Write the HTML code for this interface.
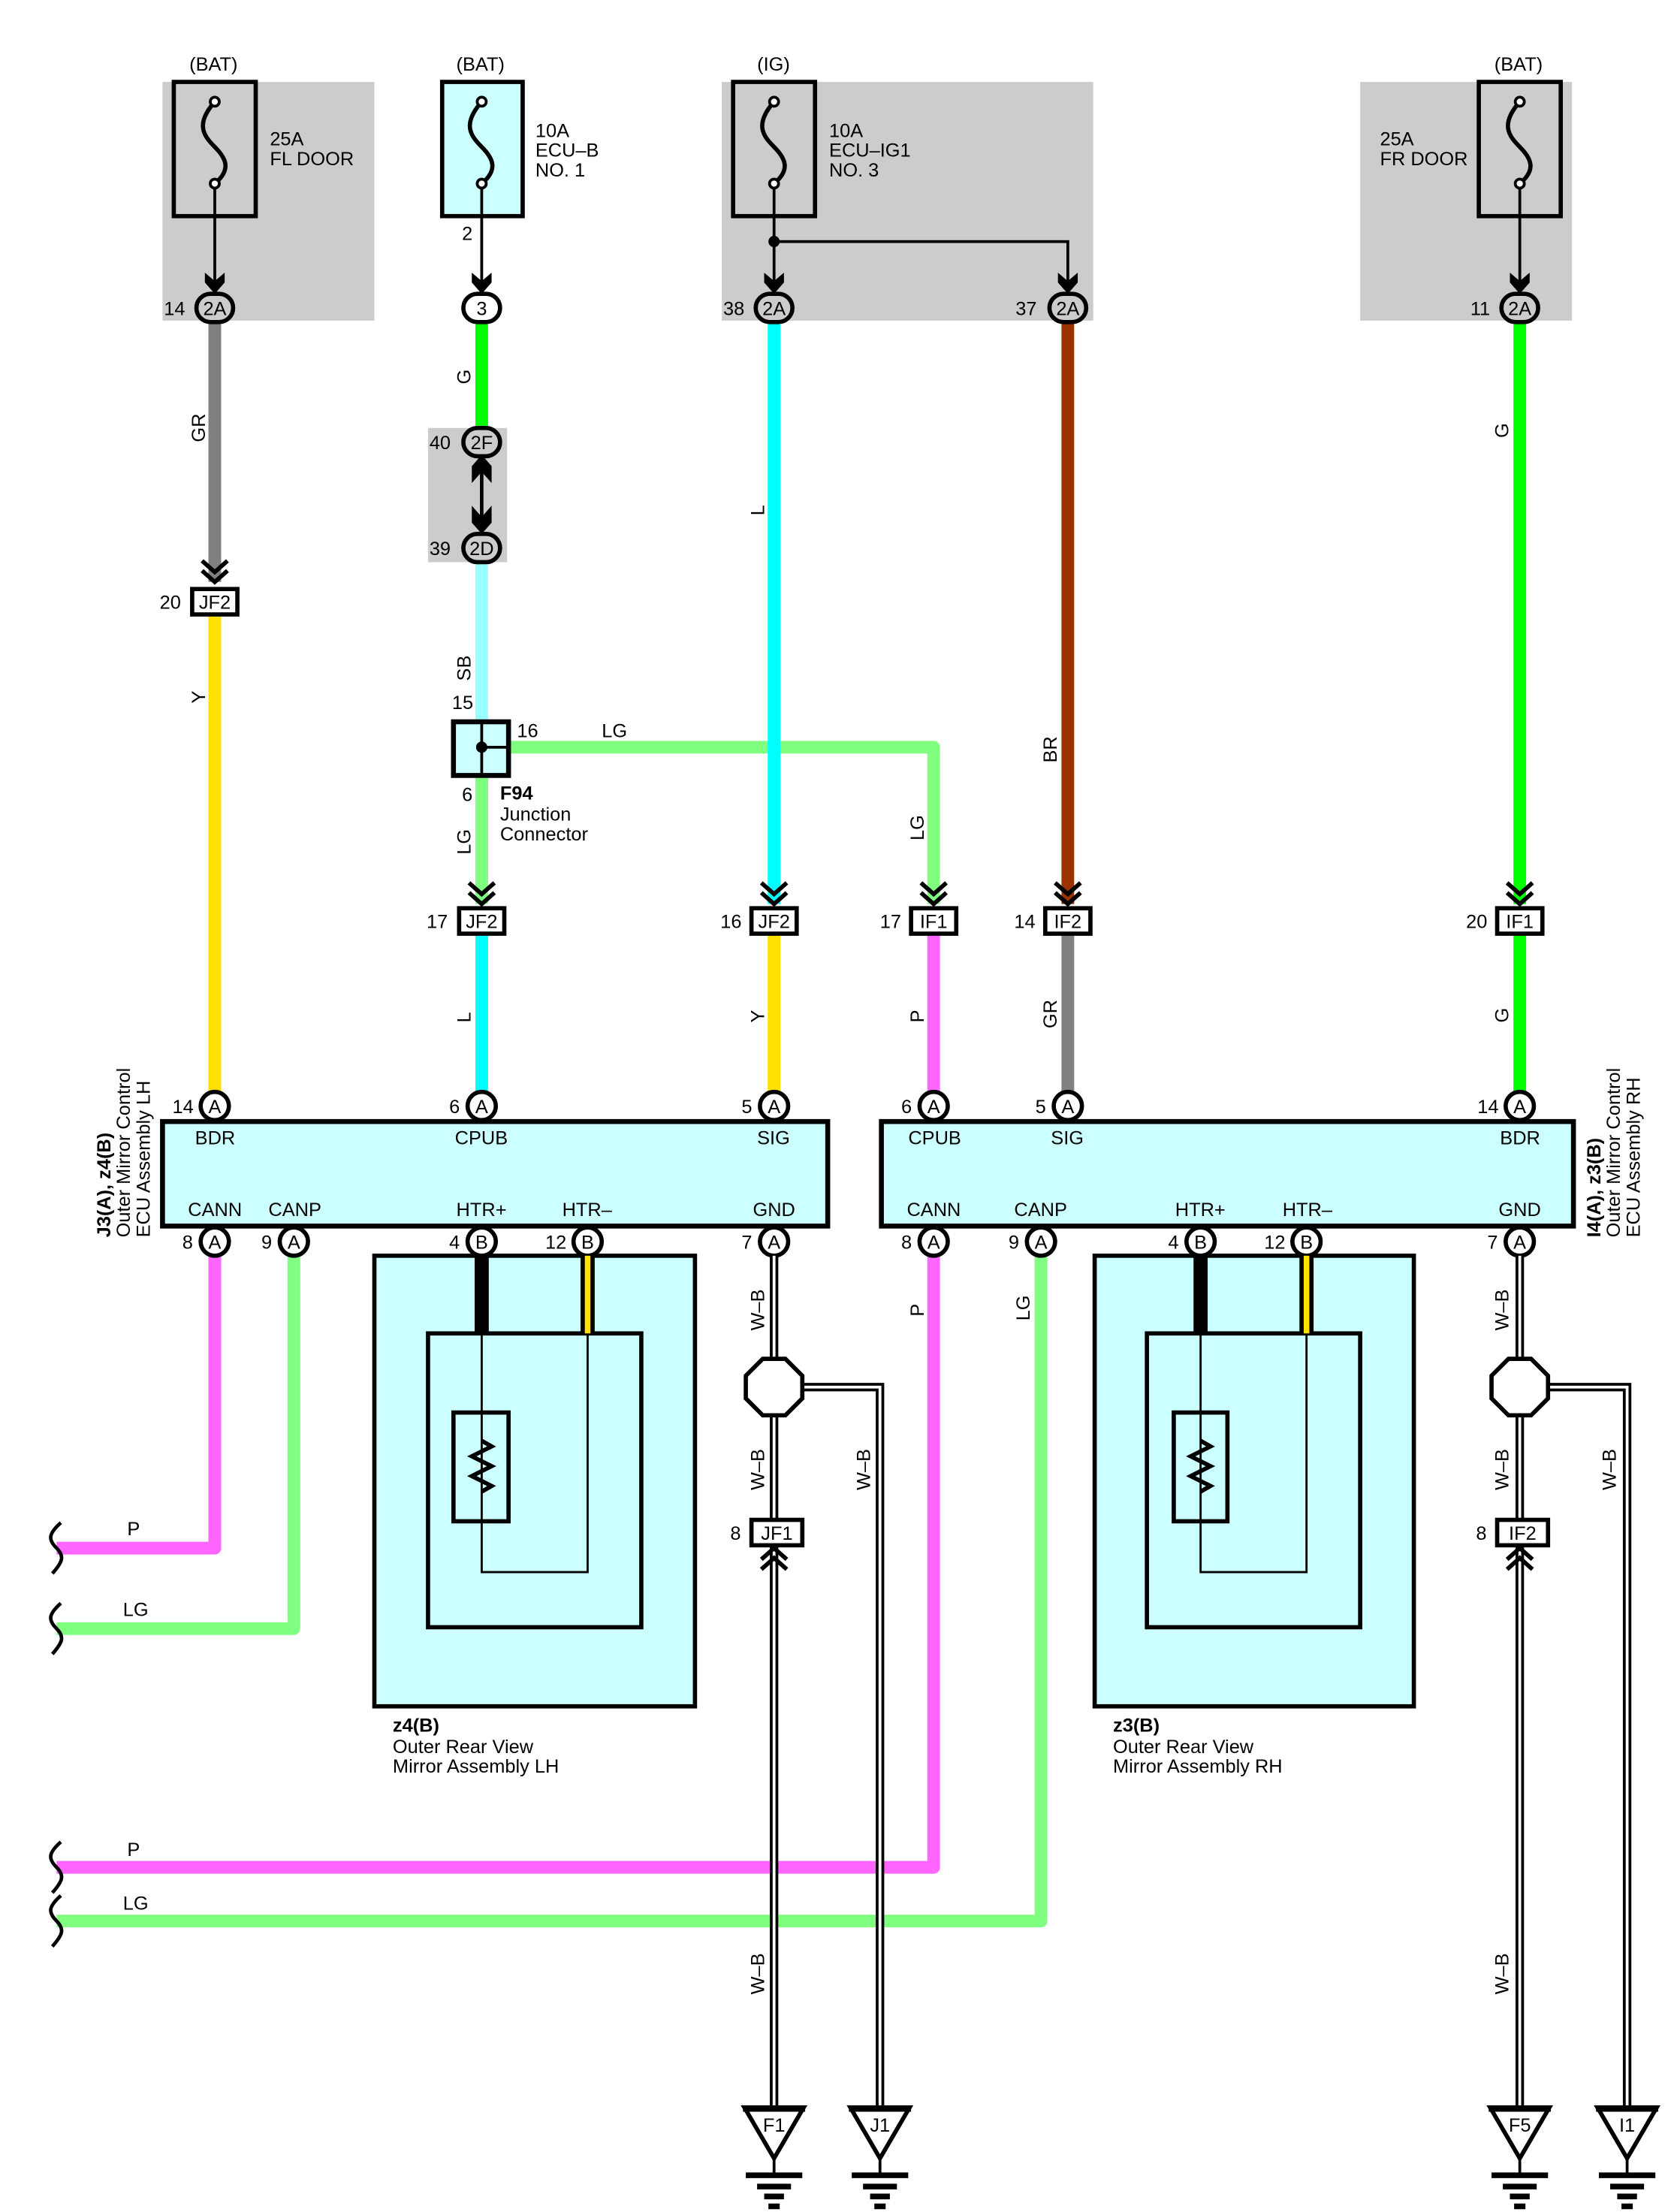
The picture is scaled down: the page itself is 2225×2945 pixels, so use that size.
<!DOCTYPE html>
<html><head><meta charset="utf-8"><style>
html,body{margin:0;padding:0;background:#fff;}
svg{display:block;}
text{font-family:"Liberation Sans",sans-serif;font-size:13.5px;fill:#000;}
.b{font-weight:bold;}
</style></head><body>
<svg width="2225" height="2945" viewBox="0 0 1183 1566" xmlns="http://www.w3.org/2000/svg">
<defs>
<g id="chev"><polyline points="-9,-16 0,-8 9,-16" fill="none" stroke="#000" stroke-width="3"/><polyline points="-9,-9 0,-1 9,-9" fill="none" stroke="#000" stroke-width="3"/></g>
<g id="chevup"><polyline points="-9,16 0,8 9,16" fill="none" stroke="#000" stroke-width="3"/><polyline points="-9,9 0,1 9,9" fill="none" stroke="#000" stroke-width="3"/></g>
<g id="fuse"><path d="M0,72 C-14,88 -8,96 0,104 C8,112 12,120 0,130" fill="none" stroke="#000" stroke-width="3"/><circle cx="0" cy="72" r="3.2" fill="#fff" stroke="#000" stroke-width="2"/><circle cx="0" cy="130" r="3.2" fill="#fff" stroke="#000" stroke-width="2"/></g>
<g id="gnd"><polygon points="-21,0 21,0 0,36" fill="#fff" stroke="#000" stroke-width="3"/><line x1="-22" y1="1" x2="22" y2="1" stroke="#000" stroke-width="4"/><line x1="0" y1="36" x2="0" y2="48" stroke="#000" stroke-width="2"/><line x1="-20" y1="48" x2="20" y2="48" stroke="#000" stroke-width="4"/><line x1="-12" y1="56" x2="12" y2="56" stroke="#000" stroke-width="4"/><line x1="-7" y1="63" x2="7" y2="63" stroke="#000" stroke-width="4"/><line x1="-4" y1="70" x2="4" y2="70" stroke="#000" stroke-width="4"/></g>
</defs>

<rect x="115" y="58" width="150" height="169" fill="#ccc"/>
<rect x="511" y="58" width="263" height="169" fill="#ccc"/>
<rect x="963" y="58" width="150" height="169" fill="#ccc"/>
<rect x="303" y="303" width="56" height="95" fill="#ccc"/>

<text x="134" y="50">(BAT)</text>
<text x="323" y="50">(BAT)</text>
<text x="536" y="50">(IG)</text>
<text x="1058" y="50">(BAT)</text>
<text x="191" y="103">25A</text><text x="191" y="117">FL DOOR</text>
<text x="379" y="97">10A</text><text x="379" y="111">ECU–B</text><text x="379" y="125">NO. 1</text>
<text x="587" y="97">10A</text><text x="587" y="111">ECU–IG1</text><text x="587" y="125">NO. 3</text>
<text x="977" y="103">25A</text><text x="977" y="117">FR DOOR</text>

<rect x="123" y="58" width="58" height="95" fill="none" stroke="#000" stroke-width="3"/>
<rect x="313" y="58" width="57" height="95" fill="#ccffff" stroke="#000" stroke-width="3"/>
<rect x="519" y="58" width="58" height="95" fill="none" stroke="#000" stroke-width="3"/>
<rect x="1047" y="58" width="58" height="95" fill="none" stroke="#000" stroke-width="3"/>
<use href="#fuse" x="152"/><use href="#fuse" x="341"/><use href="#fuse" x="548"/><use href="#fuse" x="1076"/>
<g stroke="#000" stroke-width="2" fill="none">
<line x1="152" y1="133" x2="152" y2="205"/><line x1="341" y1="133" x2="341" y2="205"/>
<line x1="548" y1="133" x2="548" y2="205"/><line x1="1076" y1="133" x2="1076" y2="205"/>
<polyline points="548,171 756,171 756,205"/>
</g>
<circle cx="548" cy="171" r="4" fill="#000"/>
<g fill="#000">
<polygon points="145,193 152,199 159,193 159,200 152,208 145,200"/>
<polygon points="334,193 341,199 348,193 348,200 341,208 334,200"/>
<polygon points="541,193 548,199 555,193 555,200 548,208 541,200"/>
<polygon points="749,193 756,199 763,193 763,200 756,208 749,200"/>
<polygon points="1069,193 1076,199 1083,193 1083,200 1076,208 1069,200"/>
</g>
<text x="327" y="170">2</text>

<g fill="none" stroke-width="9">
<line x1="152" y1="228" x2="152" y2="412" stroke="#808080"/>
<line x1="152" y1="435" x2="152" y2="775" stroke="#ffe000"/>
<line x1="341" y1="228" x2="341" y2="303" stroke="#00ff00"/>
<line x1="341" y1="398" x2="341" y2="512" stroke="#99ffff"/>
<polyline points="341,548 341,640" stroke="#80ff80"/>
<polyline points="358,529 661,529 661,640" stroke="#80ff80" stroke-linejoin="round"/>
<line x1="341" y1="662" x2="341" y2="775" stroke="#00ffff"/>
<line x1="548" y1="228" x2="548" y2="640" stroke="#00ffff"/>
<line x1="548" y1="662" x2="548" y2="775" stroke="#ffe000"/>
<line x1="661" y1="662" x2="661" y2="775" stroke="#ff66ff"/>
<line x1="756" y1="228" x2="756" y2="640" stroke="#993300"/>
<line x1="756" y1="662" x2="756" y2="775" stroke="#808080"/>
<line x1="1076" y1="228" x2="1076" y2="640" stroke="#00ff00"/>
<line x1="1076" y1="662" x2="1076" y2="775" stroke="#00ff00"/>
<polyline points="152,888 152,1096 40,1096" stroke="#ff66ff" stroke-linejoin="round"/>
<polyline points="208,888 208,1153 40,1153" stroke="#80ff80" stroke-linejoin="round"/>
<polyline points="661,888 661,1322 40,1322" stroke="#ff66ff" stroke-linejoin="round"/>
<polyline points="737,888 737,1360 40,1360" stroke="#80ff80" stroke-linejoin="round"/>
</g>

<line x1="341" y1="322" x2="341" y2="378" stroke="#000" stroke-width="2.5"/>
<polygon points="334,342 341,334 348,342 348,330 341,322 334,330" fill="#000"/>
<polygon points="334,358 341,366 348,358 348,370 341,378 334,370" fill="#000"/>

<rect x="321" y="511" width="39" height="38" fill="#ccffff" stroke="#000" stroke-width="3.5"/>
<g stroke="#000" stroke-width="2"><line x1="341" y1="511" x2="341" y2="549"/><line x1="341" y1="529" x2="360" y2="529"/></g>
<circle cx="341" cy="529" r="4" fill="#000"/>
<text x="320" y="502">15</text><text x="366" y="522">16</text><text x="426" y="522">LG</text>
<text x="327" y="567">6</text>
<text x="354" y="566" class="b">F94</text>
<text x="354" y="581">Junction</text><text x="354" y="595">Connector</text>

<g stroke="#000" stroke-width="3" fill="#ccc">
<rect x="139" y="208" width="26" height="20" rx="10"/>
<rect x="328" y="208" width="26" height="20" rx="10" fill="#fff"/>
<rect x="535" y="208" width="26" height="20" rx="10"/>
<rect x="743" y="208" width="26" height="20" rx="10"/>
<rect x="1063" y="208" width="26" height="20" rx="10"/>
<rect x="328" y="303" width="26" height="20" rx="10"/>
<rect x="328" y="378" width="26" height="20" rx="10"/>
</g>
<g text-anchor="middle">
<text x="152" y="223">2A</text><text x="341" y="223">3</text><text x="548" y="223">2A</text><text x="756" y="223">2A</text><text x="1076" y="223">2A</text>
<text x="341" y="318">2F</text><text x="341" y="393">2D</text>
</g>
<text x="116" y="223">14</text><text x="512" y="223">38</text><text x="719" y="223">37</text><text x="1041" y="223">11</text>
<text x="304" y="318">40</text><text x="304" y="393">39</text>

<use href="#chev" x="152" y="413"/><use href="#chev" x="341" y="641"/><use href="#chev" x="548" y="641"/><use href="#chev" x="661" y="641"/><use href="#chev" x="756" y="641"/><use href="#chev" x="1076" y="641"/>
<g fill="#fff" stroke="#000" stroke-width="3">
<rect x="136" y="417" width="32" height="18"/>
<rect x="325" y="643" width="32" height="18"/>
<rect x="532" y="643" width="32" height="18"/>
<rect x="645" y="643" width="32" height="18"/>
<rect x="740" y="643" width="32" height="18"/>
<rect x="1060" y="643" width="32" height="18"/>
</g>
<g text-anchor="middle">
<text x="152" y="431">JF2</text><text x="341" y="657">JF2</text><text x="548" y="657">JF2</text><text x="661" y="657">IF1</text><text x="756" y="657">IF2</text><text x="1076" y="657">IF1</text>
</g>
<text x="113" y="431">20</text><text x="302" y="657">17</text><text x="510" y="657">16</text><text x="623" y="657">17</text><text x="718" y="657">14</text><text x="1038" y="657">20</text>

<g>
<text transform="translate(145,313) rotate(-90)">GR</text>
<text transform="translate(333,272) rotate(-90)">G</text>
<text transform="translate(333,482) rotate(-90)">SB</text>
<text transform="translate(333,605) rotate(-90)">LG</text>
<text transform="translate(333,724) rotate(-90)">L</text>
<text transform="translate(145,498) rotate(-90)">Y</text>
<text transform="translate(541,365) rotate(-90)">L</text>
<text transform="translate(541,724) rotate(-90)">Y</text>
<text transform="translate(654,595) rotate(-90)">LG</text>
<text transform="translate(654,724) rotate(-90)">P</text>
<text transform="translate(748,540) rotate(-90)">BR</text>
<text transform="translate(748,728) rotate(-90)">GR</text>
<text transform="translate(1068,310) rotate(-90)">G</text>
<text transform="translate(1068,724) rotate(-90)">G</text>
<text transform="translate(654,932) rotate(-90)">P</text>
<text transform="translate(729,935) rotate(-90)">LG</text>
<text transform="translate(333,932) rotate(-90)">B</text>
<text transform="translate(409,942) rotate(-90)">B–Y</text>
<text transform="translate(843,932) rotate(-90)">B</text>
<text transform="translate(918,942) rotate(-90)">B–Y</text>
<text transform="translate(541,942) rotate(-90)">W–B</text>
<text transform="translate(541,1055) rotate(-90)">W–B</text>
<text transform="translate(616,1055) rotate(-90)">W–B</text>
<text transform="translate(541,1412) rotate(-90)">W–B</text>
<text transform="translate(1068,942) rotate(-90)">W–B</text>
<text transform="translate(1068,1055) rotate(-90)">W–B</text>
<text transform="translate(1144,1055) rotate(-90)">W–B</text>
<text transform="translate(1068,1412) rotate(-90)">W–B</text>
</g>
<text x="90" y="1087">P</text><text x="87" y="1144">LG</text>
<text x="90" y="1314">P</text><text x="87" y="1352">LG</text>

<g fill="none" stroke="#000" stroke-width="2.5">
<path d="M43,1078 C34,1086 34,1090 40,1096 C46,1102 44,1106 37,1114"/>
<path d="M43,1135 C34,1143 34,1147 40,1153 C46,1159 44,1163 37,1171"/>
<path d="M43,1304 C34,1312 34,1316 40,1322 C46,1328 44,1332 37,1340"/>
<path d="M43,1342 C34,1350 34,1354 40,1360 C46,1366 44,1370 37,1378"/>
</g>

<rect x="115" y="794" width="471" height="74" fill="#ccffff" stroke="#000" stroke-width="3.5"/>
<rect x="624" y="794" width="490" height="74" fill="#ccffff" stroke="#000" stroke-width="3.5"/>
<text x="138" y="810">BDR</text><text x="322" y="810">CPUB</text><text x="536" y="810">SIG</text>
<text x="133" y="861">CANN</text><text x="190" y="861">CANP</text><text x="323" y="861">HTR+</text><text x="398" y="861">HTR–</text><text x="533" y="861">GND</text>
<text x="643" y="810">CPUB</text><text x="744" y="810">SIG</text><text x="1062" y="810">BDR</text>
<text x="642" y="861">CANN</text><text x="718" y="861">CANP</text><text x="832" y="861">HTR+</text><text x="908" y="861">HTR–</text><text x="1061" y="861">GND</text>
<text transform="translate(78,876) rotate(-90)"><tspan class="b">J3(A), z4(B)</tspan></text>
<text transform="translate(92,876) rotate(-90)">Outer Mirror Control</text>
<text transform="translate(106,876) rotate(-90)">ECU Assembly LH</text>
<text transform="translate(1133,876) rotate(-90)"><tspan class="b">I4(A), z3(B)</tspan></text>
<text transform="translate(1147,876) rotate(-90)">Outer Mirror Control</text>
<text transform="translate(1161,876) rotate(-90)">ECU Assembly RH</text>

<g stroke="#000" stroke-width="3" fill="#fff">
<circle cx="152" cy="783" r="10"/><circle cx="341" cy="783" r="10"/><circle cx="548" cy="783" r="10"/>
<circle cx="661" cy="783" r="10"/><circle cx="756" cy="783" r="10"/><circle cx="1076" cy="783" r="10"/>
<circle cx="152" cy="879" r="10"/><circle cx="208" cy="879" r="10"/><circle cx="341" cy="879" r="10"/><circle cx="416" cy="879" r="10"/><circle cx="548" cy="879" r="10"/>
<circle cx="661" cy="879" r="10"/><circle cx="737" cy="879" r="10"/><circle cx="850" cy="879" r="10"/><circle cx="925" cy="879" r="10"/><circle cx="1076" cy="879" r="10"/>
</g>
<g text-anchor="middle">
<text x="152" y="788">A</text><text x="341" y="788">A</text><text x="548" y="788">A</text><text x="661" y="788">A</text><text x="756" y="788">A</text><text x="1076" y="788">A</text>
<text x="152" y="884">A</text><text x="208" y="884">A</text><text x="341" y="884">B</text><text x="416" y="884">B</text><text x="548" y="884">A</text>
<text x="661" y="884">A</text><text x="737" y="884">A</text><text x="850" y="884">B</text><text x="925" y="884">B</text><text x="1076" y="884">A</text>
</g>
<text x="122" y="788">14</text><text x="318" y="788">6</text><text x="525" y="788">5</text><text x="638" y="788">6</text><text x="733" y="788">5</text><text x="1046" y="788">14</text>
<text x="129" y="884">8</text><text x="185" y="884">9</text><text x="318" y="884">4</text><text x="386" y="884">12</text><text x="525" y="884">7</text>
<text x="638" y="884">8</text><text x="714" y="884">9</text><text x="827" y="884">4</text><text x="895" y="884">12</text><text x="1053" y="884">7</text>

<g stroke="#000" stroke-width="3" fill="#ccffff">
<rect x="265" y="889" width="227" height="319"/>
<rect x="303" y="944" width="151" height="208"/>
<rect x="775" y="889" width="226" height="319"/>
<rect x="812" y="944" width="151" height="208"/>
</g>
<g fill="none" stroke="#000" stroke-width="1.5">
<polyline points="341,944 341,1113 416,1113 416,944"/>
<polyline points="850,944 850,1113 925,1113 925,944"/>
</g>
<g fill="none" stroke="#000" stroke-width="3">
<rect x="321" y="1000" width="39" height="77"/>
<rect x="831" y="1000" width="38" height="77"/>
<polyline points="341,1020 348,1024 334,1031 348,1038 334,1045 348,1052 341,1056"/>
<polyline points="850,1020 857,1024 843,1031 857,1038 843,1045 857,1052 850,1056"/>
</g>
<rect x="336" y="889" width="10" height="55" fill="#000"/>
<rect x="845" y="889" width="10" height="55" fill="#000"/>
<rect x="411" y="889" width="10" height="55" fill="#000"/><rect x="414" y="889" width="4" height="55" fill="#ffe000"/>
<rect x="920" y="889" width="10" height="55" fill="#000"/><rect x="923" y="889" width="4" height="55" fill="#ffe000"/>
<text x="278" y="1226" class="b">z4(B)</text><text x="278" y="1241">Outer Rear View</text><text x="278" y="1255">Mirror Assembly LH</text>
<text x="788" y="1226" class="b">z3(B)</text><text x="788" y="1241">Outer Rear View</text><text x="788" y="1255">Mirror Assembly RH</text>

<g fill="none" stroke="#000" stroke-width="6">
<line x1="548" y1="889" x2="548" y2="1492"/>
<polyline points="568,982 623,982 623,1492"/>
<line x1="1076" y1="889" x2="1076" y2="1492"/>
<polyline points="1096,982 1152,982 1152,1492"/>
</g>
<g fill="none" stroke="#fff" stroke-width="2">
<line x1="548" y1="889" x2="548" y2="1492"/>
<polyline points="568,982 623,982 623,1492"/>
<line x1="1076" y1="889" x2="1076" y2="1492"/>
<polyline points="1096,982 1152,982 1152,1492"/>
</g>
<g fill="#fff" stroke="#000" stroke-width="3">
<polygon points="540,962 556,962 568,974 568,990 556,1002 540,1002 528,990 528,974"/>
<polygon points="1068,962 1084,962 1096,974 1096,990 1084,1002 1068,1002 1056,990 1056,974"/>
</g>
<use href="#chevup" x="548" y="1095"/><use href="#chevup" x="1076" y="1095"/>
<g fill="#fff" stroke="#000" stroke-width="3">
<rect x="532" y="1076" width="36" height="18"/>
<rect x="1060" y="1076" width="36" height="18"/>
</g>
<text x="550" y="1090" text-anchor="middle">JF1</text><text x="1078" y="1090" text-anchor="middle">IF2</text>
<text x="517" y="1090">8</text><text x="1045" y="1090">8</text>

<use href="#gnd" x="548" y="1492"/><use href="#gnd" x="623" y="1492"/><use href="#gnd" x="1076" y="1492"/><use href="#gnd" x="1152" y="1492"/>
<g text-anchor="middle"><text x="548" y="1509">F1</text><text x="623" y="1509">J1</text><text x="1076" y="1509">F5</text><text x="1152" y="1509">I1</text></g>
</svg>
</body></html>
